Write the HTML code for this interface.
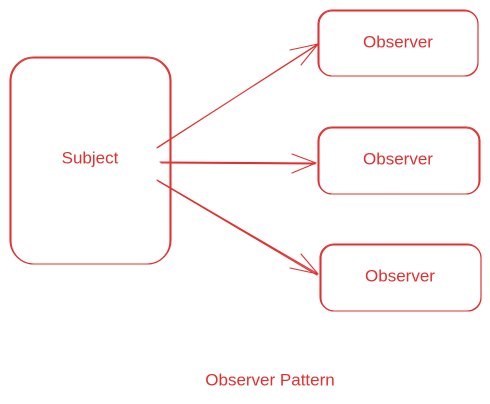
<!DOCTYPE html>
<html><head><meta charset="utf-8"><style>
html,body{margin:0;padding:0;background:#fff;}
svg{display:block}
text{font-family:"Liberation Sans",sans-serif;fill:#e03131;font-size:17px;text-anchor:middle;dominant-baseline:middle}
</style></head><body>
<svg width="490" height="404" viewBox="0 0 490 404" xmlns="http://www.w3.org/2000/svg">
<g fill="none" stroke="#e03131" stroke-width="1.1" stroke-linecap="round">
<rect x="10" y="57" width="161" height="207" rx="24"/>
<rect x="11" y="58" width="159" height="206" rx="23"/>
<rect x="318" y="10" width="160" height="66" rx="14"/>
<rect x="319" y="11" width="159" height="65" rx="13"/>
<rect x="318" y="127" width="162" height="67" rx="14"/>
<rect x="319" y="128" width="160" height="66" rx="13"/>
<rect x="320" y="244" width="161" height="67" rx="14"/>
<rect x="321" y="245" width="160" height="66" rx="13"/>
<path d="M157 148 L318 44 M158 147 L317 45"/>
<path d="M318 44 L290 50 M318 44 L301 65"/>
<path d="M160 162 L316 163 M161 163 L315 164"/>
<path d="M316 163 L292 154 M316 163 L292 173"/>
<path d="M157 180 L318 274 M158 181 L317 275"/>
<path d="M318 274 L301 254 M318 274 L290 268"/>
</g>
<text x="90" y="159">Subject</text>
<text x="398" y="43">Observer</text>
<text x="398" y="160">Observer</text>
<text x="400" y="277">Observer</text>
<text x="270" y="381">Observer Pattern</text>
</svg>
</body></html>
